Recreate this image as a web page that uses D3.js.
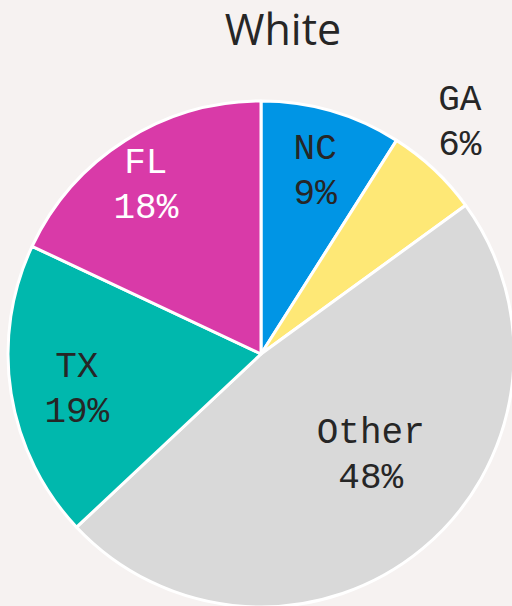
<!DOCTYPE html>
<html>
<head>
<meta charset="utf-8">
<script src="https://cdn.jsdelivr.net/npm/d3@7"></script>
<style>
  html, body { margin: 0; padding: 0; background: #f6f2f1; }
  svg { display: block; }
</style>
</head>
<body>
<div id="chart"></div>
<script>
const title = "White";
const states = ["NC", "GA", "Other", "TX", "FL"];
const shares = [9, 6, 48, 19, 18];
const colors = ["#0095e5", "#fee876", "#d9d9d9", "#00b8ad", "#d93aa8"];
const labelColors = ["#262626", "#262626", "#262626", "#262626", "#ffffff"];

const width = 512;
const height = 606;
const cx = 261, cy = 354;
const radius = 253;

// label placement: distance from centre (share of radius) and angle nudge in degrees
const labelDist = [0.767, 1.217, 0.581, 0.739, 0.818];
const labelTurn = [0, -3, -8.7, -0.9, -1.4];

const svg = d3.select("#chart")
    .append("svg")
    .attr("width", width)
    .attr("height", height)
    .style("background", "#f6f2f1");

svg.append("text")
    .attr("x", 283)
    .attr("y", 45)
    .attr("text-anchor", "middle")
    .style("font-family", "'Open Sans', sans-serif")
    .style("font-size", "43px")
    .style("fill", "#262626")
    .text(title);

const data = states.map((s, i) => ({state: s, value: shares[i], color: colors[i], label: labelColors[i], i: i}));

const pie = d3.pie()
    .value(d => d.value)
    .sort(null);

const arc = d3.arc()
    .innerRadius(0)
    .outerRadius(radius);

const g = svg.append("g")
    .attr("transform", `translate(${cx},${cy})`);

const arcs = pie(data);

g.selectAll("path")
    .data(arcs)
    .enter().append("path")
    .attr("d", arc)
    .style("fill", d => d.data.color)
    .style("stroke", "#fff")
    .style("stroke-width", 3)
    .style("stroke-linejoin", "round");

function labelPos(d) {
    const i = d.data.i;
    const a = (d.startAngle + d.endAngle) / 2 + labelTurn[i] * Math.PI / 180;
    const r = radius * labelDist[i];
    return [r * Math.sin(a), -r * Math.cos(a)];
}

const labels = g.selectAll("text.lbl")
    .data(arcs)
    .enter().append("text")
    .attr("class", "lbl")
    .attr("transform", d => `translate(${labelPos(d)})`)
    .attr("text-anchor", "middle")
    .style("font-family", "'Liberation Mono', monospace")
    .style("font-size", "36px")
    .style("fill", d => d.data.label);

labels.append("tspan")
    .attr("x", 0)
    .attr("y", "-0.25em")
    .text(d => d.data.state);

labels.append("tspan")
    .attr("x", 0)
    .attr("y", "1.0em")
    .text(d => d.data.value + "%");
</script>
</body>
</html>
